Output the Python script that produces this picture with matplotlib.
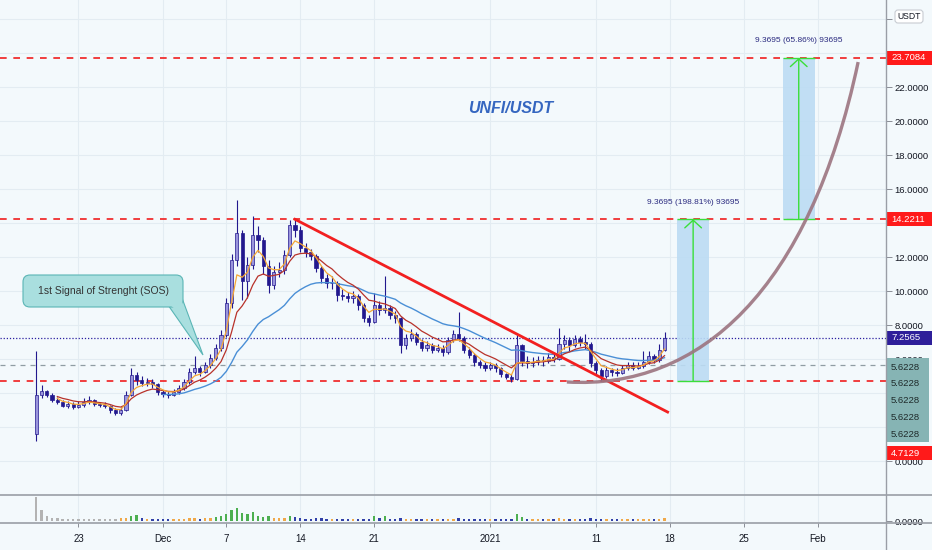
import numpy as np
import pandas as pd
import matplotlib
matplotlib.use('Agg')
import matplotlib.pyplot as plt
import matplotlib.dates as mdates
import matplotlib.transforms as mtransforms
from matplotlib.patches import Rectangle, FancyBboxPatch, Polygon, PathPatch
from matplotlib.path import Path
from matplotlib.lines import Line2D
from matplotlib.ticker import FixedLocator, FormatStrFormatter, FuncFormatter

plt.rcParams['font.family'] = ['Liberation Sans', 'DejaVu Sans']

# 12h candles, UNFI/USDT, first one at 2020-11-19 00:00
first_open = 1.6
closes = [3.9, 4.1, 3.9, 3.6, 3.5, 3.25, 3.35, 3.2, 3.3, 3.45,
          3.6, 3.35, 3.3, 3.25, 3.0, 2.8, 3.0, 3.9, 5.05, 4.75,
          4.6, 4.65, 4.55, 4.05, 3.95, 3.9, 4.05, 4.3, 4.65, 5.25,
          5.45, 5.25, 5.65, 6.05, 6.65, 7.4, 9.3, 11.8, 13.4, 10.6,
          11.55, 13.3, 13.0, 11.5, 10.35, 11.1, 11.25, 12.1, 13.9, 13.6,
          12.55, 12.3, 12.05, 11.35, 10.75, 10.45, 10.5, 9.75, 9.7, 9.6,
          9.7, 9.2, 8.4, 8.2, 9.2, 8.9, 9.0, 8.6, 8.4, 6.8,
          7.25, 7.45, 7.0, 6.65, 6.8, 6.55, 6.65, 6.4, 7.1, 7.45,
          7.25, 6.55, 6.25, 5.8, 5.65, 5.5, 5.65, 5.45, 5.1, 4.95,
          4.8, 6.8, 5.9, 5.75, 5.85, 5.95, 5.9, 6.1, 6.0, 6.9,
          7.1, 6.85, 7.15, 7.0, 6.9, 5.75, 5.35, 5.0, 5.35, 5.25,
          5.2, 5.45, 5.65, 5.5, 5.6, 5.8, 6.15, 5.95, 6.55, 7.25]
highs = [6.5, 4.45, 4.2, 4.0, 3.75, 3.6, 3.55, 3.45, 3.55, 3.7,
         3.8, 3.65, 3.5, 3.45, 3.3, 3.1, 3.2, 4.1, 5.5, 5.25,
         5.0, 4.9, 4.8, 4.6, 4.2, 4.1, 4.25, 4.5, 4.85, 5.5,
         6.2, 5.6, 5.85, 6.3, 6.9, 7.7, 9.6, 12.2, 15.35, 13.6,
         12.0, 14.4, 13.8, 13.2, 11.8, 11.5, 11.7, 12.4, 14.2, 14.25,
         13.8, 12.8, 12.5, 12.2, 11.5, 11.0, 10.9, 10.6, 10.1, 9.95,
         10.0, 9.8, 9.3, 8.6, 9.9, 9.4, 10.9, 9.2, 8.8, 8.5,
         7.5, 7.75, 7.6, 7.15, 7.05, 6.95, 6.9, 6.8, 7.3, 7.7,
         8.75, 7.35, 6.7, 6.35, 5.95, 5.8, 5.85, 5.75, 5.55, 5.2,
         5.1, 7.4, 6.9, 6.2, 6.1, 6.2, 6.15, 6.35, 6.3, 7.8,
         7.4, 7.3, 7.4, 7.35, 7.5, 7.0, 5.9, 5.5, 5.6, 5.5,
         5.45, 5.65, 5.85, 5.8, 5.8, 6.5, 6.5, 6.3, 6.9, 7.6]
lows = [1.2, 3.7, 3.75, 3.5, 3.35, 3.15, 3.1, 3.05, 3.1, 3.2,
        3.35, 3.25, 3.15, 3.1, 2.85, 2.7, 2.7, 2.95, 3.8, 4.5,
        4.4, 4.4, 4.3, 3.9, 3.75, 3.7, 3.8, 3.95, 4.2, 4.55,
        5.1, 5.0, 5.15, 5.5, 5.95, 6.5, 7.3, 9.0, 11.5, 9.5,
        9.6, 11.3, 12.3, 11.0, 9.9, 10.1, 10.8, 11.0, 12.0, 13.2,
        12.3, 12.0, 11.8, 11.1, 10.5, 10.2, 10.1, 9.4, 9.45, 9.35,
        9.3, 8.9, 8.15, 7.95, 8.1, 8.6, 8.7, 8.35, 8.1, 6.35,
        6.6, 7.05, 6.8, 6.45, 6.5, 6.35, 6.4, 6.2, 6.3, 7.0,
        7.05, 6.35, 6.05, 5.6, 5.45, 5.3, 5.35, 5.25, 4.95, 4.8,
        4.65, 4.75, 5.6, 5.5, 5.55, 5.65, 5.6, 5.75, 5.8, 5.95,
        6.6, 6.5, 6.7, 6.75, 6.6, 5.55, 5.05, 4.7, 4.9, 5.0,
        5.0, 5.1, 5.35, 5.35, 5.4, 5.5, 5.7, 5.75, 5.85, 6.45]
volumes = [1.0, 0.45, 0.22, 0.15, 0.12, 0.1, 0.1, 0.1, 0.09, 0.1,
           0.1, 0.09, 0.09, 0.1, 0.09, 0.1, 0.12, 0.14, 0.2, 0.25,
           0.15, 0.1, 0.09, 0.1, 0.08, 0.08, 0.08, 0.09, 0.1, 0.12,
           0.14, 0.1, 0.12, 0.14, 0.18, 0.22, 0.3, 0.45, 0.55, 0.35,
           0.3, 0.38, 0.22, 0.18, 0.2, 0.14, 0.12, 0.14, 0.2, 0.16,
           0.13, 0.1, 0.1, 0.12, 0.12, 0.1, 0.09, 0.1, 0.09, 0.08,
           0.08, 0.09, 0.1, 0.1, 0.2, 0.12, 0.22, 0.1, 0.09, 0.14,
           0.1, 0.09, 0.08, 0.08, 0.08, 0.08, 0.07, 0.08, 0.1, 0.09,
           0.14, 0.1, 0.08, 0.08, 0.08, 0.07, 0.07, 0.07, 0.08, 0.08,
           0.09, 0.3, 0.18, 0.1, 0.08, 0.08, 0.07, 0.08, 0.08, 0.14,
           0.1, 0.08, 0.09, 0.08, 0.1, 0.12, 0.09, 0.1, 0.08, 0.07,
           0.07, 0.07, 0.08, 0.07, 0.07, 0.09, 0.09, 0.07, 0.1, 0.12]

dates = pd.date_range('2020-11-19 00:00', periods=len(closes), freq='12h')

# drawn levels
top_target = 23.7084
mid_target = 14.2211
support = 4.7129
gray_level = 5.6228
last_price = 7.2565

# falling trend line
trend_dates = ['2020-12-13 12:00', '2021-01-17 19:00']
trend_prices = [14.22, 2.88]

# rounding-bottom arc (cubic bezier control points)
arc_dates = ['2021-01-08 06:00', '2021-01-20 20:00', '2021-01-31 06:00', '2021-02-04 20:00']
arc_prices = [4.65, 4.18, 10.06, 23.47]

# long-position boxes
box_starts = ['2021-01-18 17:00', '2021-01-28 17:00']
box_ends = ['2021-01-21 17:00', '2021-01-31 17:00']
box_bottoms = [support, mid_target]
box_tops = [mid_target, top_target]
box_texts = ['9.3695 (198.81%) 93695', '9.3695 (65.86%) 93695']

tick_dates = ['2020-11-23', '2020-12-01', '2020-12-07', '2020-12-14', '2020-12-21',
              '2021-01-01', '2021-01-11', '2021-01-18', '2021-01-25', '2021-02-01']
tick_labels = ['23', 'Dec', '7', '14', '21', '2021', '11', '18', '25', 'Feb']
# price ticks that sit behind the tags on the scale
hidden_ticks = [2, 4, 14, 24, 26]

BG = '#f3f9fc'
NAVY = '#22188e'
LIGHT = '#9a95dc'
RED = '#f01e1e'
GREEN = '#3ade3a'
AXC = '#8a8e96'

opens = [first_open] + closes[:-1]
o = np.array(opens)
c = np.array(closes)
h = np.maximum(np.array(highs), np.maximum(o, c))
l = np.minimum(np.array(lows), np.minimum(o, c))
up = c >= o

fig = plt.figure(figsize=(9.32, 5.5), dpi=100, facecolor=BG)
ax = fig.add_axes([0, 55/550, 886/932, 495/550], facecolor=BG)
vax = fig.add_axes([0, 27/550, 886/932, 28/550], facecolor=BG, sharex=ax)

ax.set_xlim(pd.Timestamp('2020-11-15 13:40'), pd.Timestamp('2021-02-07 11:20'))
ax.set_ylim(-2.0, 27.12)

# grid
ax.grid(True, color='#e3ecf2', lw=0.8, zorder=0)
vax.grid(True, axis='x', color='#e3ecf2', lw=0.8, zorder=0)

# candles
ax.vlines(dates, l, h, color=NAVY, lw=0.8, zorder=3)
ax.bar(dates, np.maximum(np.abs(c - o), 0.04), bottom=np.minimum(o, c), width=0.3,
       color=np.where(up, LIGHT, NAVY), edgecolor=NAVY, lw=0.5, zorder=4)

# moving averages
s = pd.Series(closes, index=dates)
ema_fast = s.ewm(span=4, adjust=False).mean()
ema_mid = s.ewm(span=9, adjust=False).mean()
ema_slow = s.ewm(span=24, adjust=False).mean()
ema_fast[:4] = np.nan
ema_mid[:4] = np.nan
ema_slow[:24] = np.nan
ax.plot(dates, ema_slow, color='#4a8fd6', lw=1.0, zorder=5)
ax.plot(dates, ema_mid, color='#b8322a', lw=0.9, zorder=5)
ax.plot(dates, ema_fast, color='#f6a735', lw=0.9, zorder=5)

# horizontal levels
for lvl in [top_target, mid_target, support]:
    ax.axhline(lvl, color=RED, ls=(0, (4, 4)), lw=1.2, zorder=2)
ax.axhline(gray_level, color='#8f9ca3', ls=(0, (4, 4)), lw=0.9, zorder=2)
ax.axhline(last_price, color='#2b1fa0', ls=(0, (1, 1.5)), lw=0.9, zorder=2)

# trend line
ax.plot(pd.to_datetime(trend_dates), trend_prices, color='#f22020', lw=2.0, zorder=6)

# long boxes
for x0, x1, b, t, txt in zip(box_starts, box_ends, box_bottoms, box_tops, box_texts):
    d0 = mdates.date2num(pd.Timestamp(x0))
    d1 = mdates.date2num(pd.Timestamp(x1))
    ax.add_patch(Rectangle((d0, b), d1 - d0, t - b, fc='#bcdcf4', ec='none', alpha=0.9, zorder=3))
    ax.hlines([b, t], d0, d1, color=GREEN, lw=1.0, zorder=6)
    xm = (d0 + d1) / 2
    ax.annotate('', xy=(xm, t), xytext=(xm, b),
                arrowprops=dict(arrowstyle='->,head_length=0.55,head_width=0.6', color=GREEN,
                                lw=1.0, shrinkA=0, shrinkB=0), zorder=7)
    ax.text(xm, t + 1.0, txt, ha='center', va='center', fontsize=6, color='#2b2b80', zorder=8)

# rounding arc
arc_x = mdates.date2num(pd.to_datetime(arc_dates))
arc_path = Path(np.column_stack([arc_x, arc_prices]),
                [Path.MOVETO, Path.CURVE4, Path.CURVE4, Path.CURVE4])
ax.add_patch(PathPatch(arc_path, fc='none', ec='#9c7480', lw=2.4, alpha=0.9, zorder=7))

ax.text(mdates.date2num(pd.Timestamp('2021-01-02 22:00')), 20.76, 'UNFI/USDT',
        ha='center', va='center', fontsize=11.5, fontweight='bold', fontstyle='italic',
        color='#3566c0', zorder=8)

# price axis
ax.yaxis.tick_right()
ax.set_yticks(np.arange(0, 27, 2))
ax.yaxis.set_major_formatter(FuncFormatter(lambda v, pos: '' if round(v) in hidden_ticks else '%.4f' % v))
ax.tick_params(axis='y', labelsize=6.8, labelcolor='#131722', color=AXC, length=4, width=0.7, pad=2)
ax.tick_params(axis='x', bottom=False, labelbottom=False)
for sp in ['top', 'left', 'bottom', 'right']:
    ax.spines[sp].set_visible(False)

# volume pane
vcols = []
for i, v in enumerate(volumes):
    if i < 16:
        vcols.append('#b3b3b3')
    elif v >= 0.18:
        vcols.append('#4caf50')
    elif up[i]:
        vcols.append('#f0a848')
    else:
        vcols.append('#3140a8')
vax.bar(dates, volumes, width=0.22, color=vcols, zorder=3)
vax.set_ylim(-0.08, 1.1)
vax.yaxis.tick_right()
vax.set_yticks([0])
vax.yaxis.set_major_formatter(FormatStrFormatter('%.4f'))
vax.tick_params(axis='y', labelsize=6.8, labelcolor='#131722', color=AXC, length=4, width=0.7, pad=2)
vax.xaxis.set_major_locator(FixedLocator(mdates.date2num(pd.to_datetime(tick_dates))))
vax.set_xticklabels(tick_labels)
vax.tick_params(axis='x', labelsize=7, labelcolor='#131722', color=AXC, length=3, width=0.7, pad=5)
for sp in ['top', 'left', 'bottom', 'right']:
    vax.spines[sp].set_visible(False)

# pane separators
for yy in [27/550, 55/550]:
    fig.add_artist(Line2D([0, 1], [yy, yy], transform=fig.transFigure, color='#9a9ea6', lw=1.2))
fig.add_artist(Line2D([886/932, 886/932], [0, 1], transform=fig.transFigure, color='#9a9ea6', lw=1.0))

# price tags on the axis
trans = mtransforms.blended_transform_factory(fig.transFigure, ax.transData)
tag_h = 14 / 17


def price_tag(y, text, fc, tc='white'):
    fig.add_artist(Rectangle((886.5/932, y - tag_h/2), 45/932, tag_h, transform=trans, fc=fc, ec='none'))
    fig.text(891/932, y, text, transform=trans, ha='left', va='center', fontsize=6.8, color=tc)


price_tag(top_target, '23.7084', '#ff1a1a')
price_tag(mid_target, '14.2211', '#ff1a1a')
price_tag(last_price, '7.2565', '#2e1f9a')
fig.add_artist(Rectangle((886.5/932, 1.12), 42/932, 4.94, transform=trans, fc='#86b4b4', ec='none'))
for k in range(5):
    fig.text(891/932, gray_level - 0.1 - k*0.985, '5.6228', transform=trans, ha='left', va='center',
             fontsize=6.8, color='#1e2a2a')
price_tag(0.47, '4.7129', '#ff1a1a')


def px(x, y):
    return (x/100, (550 - y)/100)


# USDT box
fig.add_artist(FancyBboxPatch(px(895, 23), 0.28, 0.13, boxstyle='round,pad=0,rounding_size=0.03',
                              transform=fig.dpi_scale_trans, fc='white', ec='#c8ccd2', lw=0.8))
fig.text(909/932, 1 - 16.5/550, 'USDT', ha='center', va='center', fontsize=6.2, color='#131722')

# SOS callout
CALL_FC = '#a9dfdf'
CALL_EC = '#5ab5b5'
tail = [px(168, 305), px(182, 298), px(203, 355)]
fig.add_artist(Polygon(tail, closed=True, transform=fig.dpi_scale_trans, fc=CALL_FC, ec=CALL_EC, lw=0.8))
fig.add_artist(FancyBboxPatch(px(23, 307), 1.60, 0.32, boxstyle='round,pad=0,rounding_size=0.07',
                              transform=fig.dpi_scale_trans, fc=CALL_FC, ec=CALL_EC, lw=0.8))
fig.add_artist(Polygon([px(169, 304), px(181, 299), px(190, 322)], closed=True,
                       transform=fig.dpi_scale_trans, fc=CALL_FC, ec='none'))
fig.text(103/932, 1 - 291/550, '1st Signal of Strenght (SOS)', ha='center', va='center',
         fontsize=7.5, color='#333333')

fig.savefig('out.png', dpi=100, facecolor=BG)
